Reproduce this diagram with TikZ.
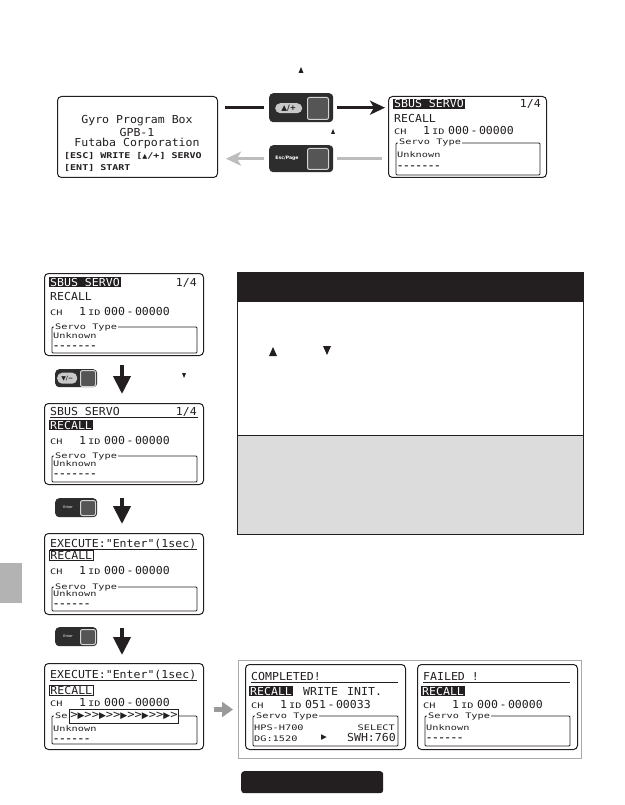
\documentclass[tikz,border=0pt]{standalone}
\usepackage{fontspec}
\usetikzlibrary{arrows.meta}
\newfontfamily\lcdfont[FakeStretch=1.05,Ligatures=TeXOff]{DejaVu Sans Mono}
\newfontfamily\lcdsfont[FakeStretch=1.35,Ligatures=TeXOff]{DejaVu Sans Mono}
\newfontfamily\lcdwfont[FakeStretch=1.25,Ligatures=TeXOff]{DejaVu Sans Mono}
\newfontfamily\symfont{DejaVu Sans}
\definecolor{ink}{HTML}{231F20}
\definecolor{btndark}{HTML}{2D2D2D}
\definecolor{pillgray}{HTML}{C8C8C8}
\definecolor{keygray}{HTML}{555555}
\definecolor{keyedge}{HTML}{D4D4D4}
\definecolor{lgray}{HTML}{BDBDBD}
\definecolor{mgray}{HTML}{9A9A9A}
\definecolor{panelgray}{HTML}{DCDCDC}
\definecolor{tabgray}{HTML}{B3B3B3}
\definecolor{resgray}{HTML}{AAAAAA}
\newcommand\ptri{{\symfont\fontsize{7.5}{8}\selectfont ▶}}
\newcommand\btri{{\symfont\fontsize{9}{10}\selectfont ▶}}
\newcommand\zz{000\kern1.5pt-\kern1.5pt00000}
\tikzset{
  lcdb/.style={font=\lcdfont\fontsize{11}{12}\selectfont, inner sep=0pt, text=ink},
  lcds/.style={font=\lcdsfont\fontsize{7.6}{9}\selectfont, inner sep=0pt, text=ink},
  scr/.style={draw=ink, line width=1pt, rounded corners=4pt, fill=white, inner sep=0pt, anchor=north west},
  inv/.style={fill=ink, text=white, inner xsep=1pt, inner ysep=0.6pt, text height=8pt, text depth=0.5pt},
  boxd/.style={draw=ink, line width=0.9pt, inner xsep=1pt, inner ysep=0.6pt, text height=8pt, text depth=0.5pt},
  lcdline/.style={draw=ink, line width=0.9pt},
  btn/.style={fill=btndark, rounded corners=4pt, inner sep=0pt, anchor=north west},
  pill/.style={fill=pillgray, rounded corners=5pt, inner sep=0pt, anchor=north west, text=ink},
  keysq/.style={fill=keygray, draw=keyedge, line width=1pt, rounded corners=2pt, inner sep=0pt, anchor=north west},
  downarrow/.style={draw=ink, line width=4pt, -{Triangle[length=18pt,width=17pt]}},
  block/.style={inner sep=0pt, anchor=north west},
}
\newcommand\chline[3]{%
  \node[lcds,anchor=base west] (#1ch) at (6,#2) {CH};
  \node[lcdb,anchor=base west] (#1one) at (35,#2) {1};
  \node[lcds,anchor=base west] (#1id) at (44,#2) {ID};
  \node[lcdb,anchor=base west] (#1num) at (60,#2) {#3};
}
\newcommand\typebox[4]{%
  \draw[lcdline, rounded corners=1pt] (8,#2) rectangle (#4,#3);
  \node[lcds, fill=white, inner xsep=1pt, anchor=base west] (#1st) at (10,#2+2) {Servo Type};
}
\newcommand\unk[4]{%
  \node[lcds,anchor=base west] (#1u) at (9,#2) {Unknown};
  \node[lcds,anchor=base west, font=\lcdsfont\bfseries\fontsize{7.6}{9}\selectfont] (#1d) at (9,#3) {#4};
}
\begin{document}
\begin{tikzpicture}[x=1pt,y=-1pt]
\useasboundingbox (0,0) rectangle (624,805);
\fill[white] (0,0) rectangle (624,805);

% small marks
\fill[ink] (298.5,73) -- (303.5,73) -- (301,67) -- cycle;
\fill[ink] (331,134) -- (335,134) -- (333,129) -- cycle;
\fill[ink] (182,373) -- (186,373) -- (184,378) -- cycle;

% ---------- top: gyro screen ----------
\node[scr, minimum width=160pt, minimum height=81pt] (gyro) at (57,96) {};
\node[lcdb] (g1) at (137,121) {Gyro Program Box};
\node[lcdb] (g2) at (137,132) {GPB-1};
\node[lcdb] (g3) at (137,143) {Futaba Corporation};
\node[lcds, font=\lcdwfont\bfseries\fontsize{8}{9}\selectfont, anchor=west] (g4) at (64,155.5) {[ESC] WRITE [{\symfont\fontsize{6.5}{7}\selectfont ▲}/+] SERVO};
\node[lcds, font=\lcdwfont\bfseries\fontsize{8}{9}\selectfont, anchor=west] (g5) at (64,167.5) {[ENT] START};

% buttons top
\node[btn, minimum width=64pt, minimum height=29pt] (b1) at (269,93) {};
\node[pill, minimum width=27pt, minimum height=10pt, font=\symfont\bfseries\fontsize{7.5}{8}\selectfont] (b1p) at (275,103) {▲/+};
\node[keysq, minimum width=21pt, minimum height=22pt] (b1k) at (307,97) {};
\node[btn, minimum width=64pt, minimum height=27pt] (b2) at (269,145) {};
\node[font=\symfont\bfseries\fontsize{4.6}{5}\selectfont, text=white, inner sep=0pt] (b2t) at (287,158.5) {Esc/Page};
\node[keysq, minimum width=21pt, minimum height=21pt] (b2k) at (307,148) {};

% ---------- top right screen ----------
\node[scr, minimum width=158pt, minimum height=81pt] (tr) at (388,96) {};
\begin{scope}[shift={(388,96)}]
  \node[lcdb, inv, anchor=base west] (trt) at (5,12) {SBUS SERVO};
  \node[lcdb, anchor=base east] (trp) at (153,12) {1/4};
  \node[lcdb, anchor=base west] (trr) at (6,27) {RECALL};
  \chline{tr}{39}{\zz}
  \typebox{tr}{47}{79}{152}
  \unk{tr}{62}{73}{-------}
\end{scope}

% top connectors
\draw[ink, line width=3pt, shorten <=7pt, shorten >=5pt] (gyro.east |- b1.west) -- (b1.west);
\draw[ink, line width=3pt, -{Stealth[length=15pt,width=14pt,inset=4pt]}, shorten <=4pt, shorten >=3pt] (b1.east) -- (tr.west |- b1.east);
\draw[lgray, line width=3pt, shorten <=6pt, shorten >=4pt] (tr.west |- b2.east) -- (b2.east);
\draw[lgray, line width=3pt, -{Stealth[length=15pt,width=14pt,inset=4pt]}, shorten <=5pt, shorten >=8pt] (b2.west) -- (gyro.east |- b2.west);

% ---------- right panel ----------
\node[block, fill=ink, minimum width=346pt, minimum height=30pt] (phead) at (237,272) {};
\node[block, fill=white, minimum width=346pt, minimum height=133pt] (pbody) at (237,302) {};
\node[block, fill=panelgray, minimum width=346pt, minimum height=99pt] (pgray) at (237,435) {};
\draw[ink, line width=1pt] (phead.north west) rectangle (pgray.south east);
\draw[ink, line width=1pt] (pgray.north west) -- (pgray.north east);
\fill[ink] (269,356) -- (277,356) -- (273,347) -- cycle;
\fill[ink] (323,346) -- (331,346) -- (327,355) -- cycle;

% side tab and bottom bar
\node[block, fill=tabgray, minimum width=22pt, minimum height=40pt] (tab) at (0,563) {};
\node[block, fill=ink, rounded corners=3pt, minimum width=142pt, minimum height=22pt] (bbar) at (241,771) {};

% ---------- S1 ----------
\node[scr, minimum width=159pt, minimum height=82pt] (s1) at (44,273) {};
\begin{scope}[shift={(44,273)}]
  \node[lcdb, inv, anchor=base west] (s1t) at (5,13) {SBUS SERVO};
  \node[lcdb, anchor=base east] (s1p) at (153,13) {1/4};
  \node[lcdb, anchor=base west] (s1r) at (6,27) {RECALL};
  \chline{s1}{42}{\zz}
  \typebox{s1}{54}{80}{153}
  \unk{s1}{65}{75}{-------}
\end{scope}

\node[btn, minimum width=42pt, minimum height=18pt] (bA) at (55,369) {};
\node[pill, minimum width=20pt, minimum height=11pt, font=\symfont\bfseries\fontsize{6}{6}\selectfont] (bAp) at (57,372.5) {▼/−};
\node[keysq, minimum width=15pt, minimum height=16pt] (bAk) at (80,370) {};

% ---------- S2 ----------
\node[scr, minimum width=159pt, minimum height=81pt] (s2) at (44,403) {};
\begin{scope}[shift={(44,403)}]
  \node[lcdb, anchor=base west] (s2t) at (6,12) {SBUS SERVO};
  \draw[lcdline] (6,14) -- (154,14);
  \node[lcdb, anchor=base east] (s2p) at (153,12) {1/4};
  \node[lcdb, inv, anchor=base west] (s2r) at (5,26) {RECALL};
  \chline{s2}{41}{\zz}
  \typebox{s2}{53}{79}{153}
  \unk{s2}{63}{73}{-------}
\end{scope}

\node[btn, minimum width=42pt, minimum height=19pt] (bB) at (55,498) {};
\node[font=\symfont\fontsize{3.5}{4}\selectfont, text=white, inner sep=0pt] (bBt) at (68,507.5) {Enter};
\node[keysq, minimum width=15pt, minimum height=15pt] (bBk) at (80,500) {};

% ---------- S3 ----------
\node[scr, minimum width=159pt, minimum height=81pt] (s3) at (44,533) {};
\begin{scope}[shift={(44,533)}]
  \node[lcdb, anchor=base west] (s3t) at (6,14) {EXECUTE:"Enter"(1sec)};
  \draw[lcdline] (6,16) -- (153,16);
  \node[lcdb, boxd, anchor=base west] (s3r) at (5,26) {RECALL};
  \chline{s3}{41}{\zz}
  \typebox{s3}{54}{78}{153}
  \unk{s3}{63.5}{73}{------}
\end{scope}

\node[btn, minimum width=42pt, minimum height=19pt] (bC) at (55,627) {};
\node[font=\symfont\fontsize{3.5}{4}\selectfont, text=white, inner sep=0pt] (bCt) at (68,636.5) {Enter};
\node[keysq, minimum width=15pt, minimum height=15pt] (bCk) at (80,629) {};

% ---------- S4 ----------
\node[scr, minimum width=159pt, minimum height=86pt] (s4) at (44,663) {};
\begin{scope}[shift={(44,663)}]
  \node[lcdb, anchor=base west] (s4t) at (6,15) {EXECUTE:"Enter"(1sec)};
  \draw[lcdline] (6,17.5) -- (153,17.5);
  \node[lcdb, boxd, anchor=base west] (s4r) at (5,31) {RECALL};
  \chline{s4}{43.5}{\zz}
  \typebox{s4}{53}{81}{153}
  \unk{s4}{68}{78}{------}
  \node[block, draw=ink, fill=white, line width=0.9pt, minimum width=109pt, minimum height=14pt] (s4bar) at (25,45.5) {};
  \node[lcdb, font=\lcdfont\fontsize{11.5}{12}\selectfont] (s4prog) at (s4bar.center) {>\btri>>\btri>>\btri>>\btri>>\btri>};
\end{scope}

% down arrows
\draw[downarrow, shorten <=9pt, shorten >=9pt] ([xshift=-2pt]s1.south) -- ([xshift=-2pt]s2.north);
\draw[downarrow, shorten <=13pt, shorten >=9pt] ([xshift=-2pt]s2.south) -- ([xshift=-2pt]s3.north);
\draw[downarrow, shorten <=13pt, shorten >=8pt] ([xshift=-2pt]s3.south) -- ([xshift=-2pt]s4.north);

% ---------- results ----------
\node[block, draw=resgray, line width=1pt, minimum width=343pt, minimum height=98pt] (res) at (238,660) {};
\draw[mgray, line width=5pt, -{Triangle[length=11pt,width=15pt]}, shorten <=10pt, shorten >=5pt] ([yshift=-3pt]s4.east) -- ([yshift=-3pt]res.west |- s4.east);

\node[scr, minimum width=160pt, minimum height=85pt] (ok) at (245,664) {};
\begin{scope}[shift={(245,664)}]
  \node[lcdb, anchor=base west] (okt) at (6,16) {COMPLETED!};
  \draw[lcdline] (6,18.5) -- (153,18.5);
  \node[lcdb, inv, anchor=base west] (okr) at (4,31) {RECALL};
  \node[lcdb, anchor=base west] (okw) at (58,31) {WRITE};
  \node[lcdb, anchor=base west] (oki) at (102,31) {INIT.};
  \chline{ok}{44}{051\kern1.5pt-\kern1.5pt00033}
  \typebox{ok}{52}{82}{153}
  \node[lcds, anchor=base west] (okh) at (9,66) {HPS-H700};
  \node[lcds, anchor=base east] (oks) at (150,66) {SELECT};
  \node[lcds, anchor=base west] (okd) at (9,77) {DG:1520};
  \node[inner sep=0pt, text=ink] (okarr) at (79,73.5) {\ptri};
  \node[lcdb, anchor=base east] (okw2) at (151,77.5) {SWH:760};
\end{scope}

\node[scr, minimum width=160pt, minimum height=85pt] (fail) at (417,664) {};
\begin{scope}[shift={(417,664)}]
  \node[lcdb, anchor=base west] (ft) at (6,16) {FAILED !};
  \draw[lcdline] (6,18.5) -- (153,18.5);
  \node[lcdb, inv, anchor=base west] (fr) at (4,31) {RECALL};
  \chline{f}{44}{\zz}
  \typebox{f}{52}{82}{153}
  \unk{f}{66}{76.5}{------}
\end{scope}
\end{tikzpicture}
\end{document}
